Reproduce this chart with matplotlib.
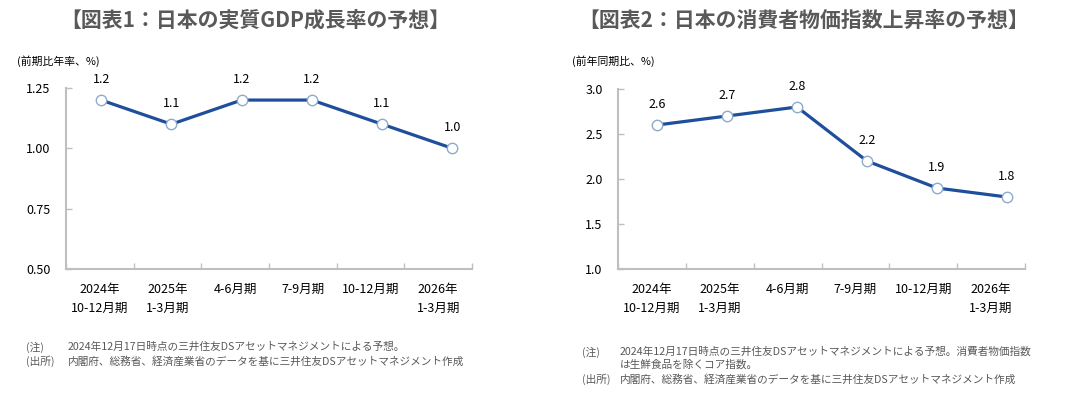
import matplotlib.pyplot as plt
import numpy as np

plt.rcParams['font.family'] = ['Noto Sans CJK JP', 'DejaVu Sans']

# data
periods = ['2024年\n10-12月期', '2025年\n1-3月期', '4-6月期', '7-9月期', '10-12月期', '2026年\n1-3月期']
gdp = [1.2, 1.1, 1.2, 1.2, 1.1, 1.0]
cpi = [2.6, 2.7, 2.8, 2.2, 1.9, 1.8]

title1 = '【図表1：日本の実質GDP成長率の予想】'
title2 = '【図表2：日本の消費者物価指数上昇率の予想】'
unit1 = '(前期比年率、%)'
unit2 = '(前年同期比、%)'
gdp_ticks = [0.5, 0.75, 1.0, 1.25]
cpi_ticks = [1.0, 1.5, 2.0, 2.5, 3.0]

line_c = '#1F4E9A'
edge_c = '#8EAACF'
axis_c = '#BFBFBF'
note_c = '#595959'

W, H = 1087, 397
fig = plt.figure(figsize=(W / 100, H / 100), dpi=100)


def px(x0, y0, x1, y1):
    return [x0 / W, 1 - y1 / H, (x1 - x0) / W, (y1 - y0) / H]


def draw(ax, vals, ticks, fmt, xlim):
    x = np.arange(len(vals))
    ax.plot(x, vals, '-', color=line_c, lw=2.3, marker='o', ms=7.5,
            mfc='white', mec=edge_c, mew=1.0, zorder=3, clip_on=False)
    for xi, v in zip(x, vals):
        ax.annotate(f'{v:.1f}', (xi, v), xytext=(0, 10), textcoords='offset points',
                    ha='center', va='bottom', fontsize=9, color='black')
    ax.set_xlim(*xlim)
    ax.set_ylim(ticks[0], ticks[-1])
    ax.set_yticks(ticks)
    ax.set_yticklabels([fmt % t for t in ticks], fontsize=9)
    bounds = np.linspace(xlim[0], xlim[1], len(vals) + 1)
    ax.set_xticks(bounds, minor=True)
    ax.set_xticks((bounds[:-1] + bounds[1:]) / 2)
    ax.set_xticklabels(periods, fontsize=9, linespacing=1.65)
    ax.tick_params(axis='x', which='major', length=0, pad=10)
    ax.tick_params(axis='x', which='minor', direction='in', length=4, color=axis_c, width=1)
    ax.tick_params(axis='y', direction='in', length=4, color=axis_c, width=1, pad=11)
    for s in ['top', 'right']:
        ax.spines[s].set_visible(False)
    for s in ['left', 'bottom']:
        ax.spines[s].set_color(axis_c)
        ax.spines[s].set_linewidth(1.5)


ax1 = fig.add_axes(px(66, 88, 472, 269))
draw(ax1, gdp, gdp_ticks, '%.2f', (-0.5, 5.28))
ax2 = fig.add_axes(px(618, 89, 1025, 269))
draw(ax2, cpi, cpi_ticks, '%.1f', (-0.56, 5.26))

fig.text(255 / W, 1 - 20 / H, title1, ha='center', va='center', fontsize=15,
         fontweight='bold', color=note_c)
fig.text(804 / W, 1 - 20 / H, title2, ha='center', va='center', fontsize=15,
         fontweight='bold', color=note_c)
fig.text(17 / W, 1 - 61 / H, unit1, ha='left', va='center', fontsize=7.8)
fig.text(572 / W, 1 - 61 / H, unit2, ha='left', va='center', fontsize=7.8)

# notes
fs = 7.7
fig.text(26 / W, 1 - 347 / H, '(注)', va='center', fontsize=fs, color=note_c)
fig.text(68 / W, 1 - 347 / H, '2024年12月17日時点の三井住友DSアセットマネジメントによる予想。',
         va='center', fontsize=fs, color=note_c)
fig.text(26 / W, 1 - 361 / H, '(出所)', va='center', fontsize=fs, color=note_c)
fig.text(68 / W, 1 - 361 / H, '内閣府、総務省、経済産業省のデータを基に三井住友DSアセットマネジメント作成',
         va='center', fontsize=fs, color=note_c)

fig.text(582 / W, 1 - 352 / H, '(注)', va='center', fontsize=fs, color=note_c)
fig.text(620 / W, 1 - 352 / H, '2024年12月17日時点の三井住友DSアセットマネジメントによる予想。消費者物価指数',
         va='center', fontsize=fs, color=note_c)
fig.text(620 / W, 1 - 365 / H, 'は生鮮食品を除くコア指数。', va='center', fontsize=fs, color=note_c)
fig.text(582 / W, 1 - 379 / H, '(出所)', va='center', fontsize=fs, color=note_c)
fig.text(620 / W, 1 - 379 / H, '内閣府、総務省、経済産業省のデータを基に三井住友DSアセットマネジメント作成',
         va='center', fontsize=fs, color=note_c)

fig.savefig('out.png', dpi=100)
